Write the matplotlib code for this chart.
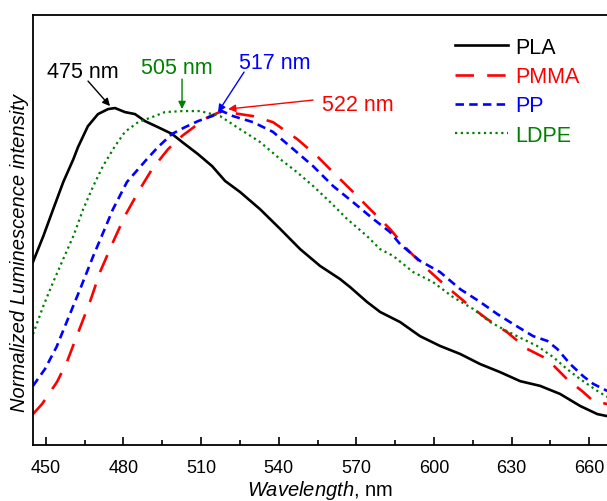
import matplotlib
matplotlib.use("Agg")
import matplotlib.pyplot as plt
from matplotlib.ticker import MultipleLocator

plt.rcParams['font.family'] = ['Liberation Sans', 'DejaVu Sans']
plt.rcParams['mathtext.fontset'] = 'custom'
plt.rcParams['mathtext.it'] = 'Liberation Sans:italic'
plt.rcParams['mathtext.rm'] = 'Liberation Sans'

# ---- data ----
pla_wl = [445.1, 449.1, 452.9, 456.8, 460.7, 462.5, 466.3, 470.2, 474.1, 476.8,
          480.6, 484.5, 488.4, 493.4, 498.8, 502.7, 508.8, 514.3, 519.3, 525.1,
          532.8, 540.6, 548.3, 556.0, 563.7, 567.6, 574.1, 579.2, 586.9, 594.6,
          602.3, 610.1, 617.8, 625.5, 633.3, 641.0, 648.7, 656.5, 663.1, 666.9]
pla_int = [0.545, 0.622, 0.702, 0.783, 0.851, 0.887, 0.949, 0.985, 1.000, 1.003,
           0.991, 0.985, 0.964, 0.946, 0.926, 0.902, 0.866, 0.830, 0.786, 0.753,
           0.702, 0.643, 0.583, 0.533, 0.494, 0.470, 0.426, 0.396, 0.366, 0.324,
           0.295, 0.271, 0.241, 0.217, 0.190, 0.176, 0.152, 0.116, 0.092, 0.086]

pmma_wl = [445.1, 448.6, 454.4, 458.2, 462.0, 467.1, 471.0, 476.0, 480.6, 486.4,
           491.1, 497.3, 502.7, 507.7, 512.7, 518.1, 520.0, 530.1, 537.8, 547.1,
           554.8, 561.0, 567.6, 575.3, 583.0, 589.6, 597.3, 605.1, 612.8, 620.5,
           628.2, 636.0, 643.7, 651.4, 657.6, 661.5, 666.9]
pmma_int = [0.092, 0.122, 0.188, 0.247, 0.324, 0.426, 0.515, 0.604, 0.682, 0.762,
            0.821, 0.881, 0.920, 0.949, 0.976, 0.994, 0.991, 0.979, 0.961, 0.911,
            0.860, 0.812, 0.762, 0.702, 0.643, 0.583, 0.524, 0.470, 0.420, 0.375,
            0.336, 0.286, 0.256, 0.196, 0.158, 0.131, 0.122]

pp_wl = [445.1, 449.7, 454.2, 458.1, 463.3, 468.4, 472.3, 476.0, 481.4, 489.1,
         493.4, 498.8, 503.8, 508.8, 514.3, 518.1, 522.4, 530.1, 537.8, 545.6,
         553.3, 561.0, 568.7, 576.5, 583.0, 586.9, 594.6, 602.3, 610.1, 617.8,
         624.4, 630.6, 638.3, 643.7, 647.6, 652.6, 657.6, 661.5, 666.9]
pp_int = [0.176, 0.226, 0.292, 0.366, 0.464, 0.563, 0.634, 0.702, 0.783, 0.851,
          0.887, 0.926, 0.946, 0.964, 0.979, 0.994, 0.979, 0.961, 0.932, 0.881,
          0.830, 0.771, 0.723, 0.673, 0.634, 0.598, 0.548, 0.515, 0.464, 0.426,
          0.390, 0.360, 0.324, 0.310, 0.286, 0.241, 0.205, 0.182, 0.161]

ldpe_wl = [445.1, 449.1, 452.9, 456.8, 460.7, 464.5, 468.4, 472.1, 476.8, 480.6,
           485.7, 491.1, 496.1, 502.7, 509.6, 517.4, 525.1, 532.8, 540.6, 547.1,
           553.3, 559.9, 566.4, 574.1, 579.2, 584.2, 591.9, 599.6, 607.4, 615.1,
           621.7, 628.2, 634.4, 639.8, 646.0, 651.4, 656.5, 663.1, 666.9]
ldpe_int = [0.330, 0.414, 0.485, 0.554, 0.622, 0.702, 0.771, 0.830, 0.890, 0.932,
            0.961, 0.976, 0.991, 0.994, 0.994, 0.979, 0.940, 0.902, 0.851, 0.812,
            0.771, 0.723, 0.673, 0.622, 0.583, 0.563, 0.515, 0.485, 0.440, 0.405,
            0.366, 0.339, 0.315, 0.295, 0.262, 0.226, 0.196, 0.161, 0.143]

series_labels = ["PLA", "PMMA", "PP", "LDPE"]
peak_labels = ["475 nm", "505 nm", "517 nm", "522 nm"]
x_ticks = [450, 480, 510, 540, 570, 600, 630, 660]

# ---- figure ----
W, H = 607, 502
fig = plt.figure(figsize=(W / 100, H / 100), dpi=100)
L, R, T, B = 33, 609, 16, 446
ax = fig.add_axes([L / W, 1 - B / H, (R - L) / W, (B - T) / H])

ax.plot(pla_wl, pla_int, color='black', lw=1.9, label=series_labels[0])
ax.plot(pmma_wl, pmma_int, color='#ff0000', lw=1.9, dashes=(7, 5), label=series_labels[1])
ax.plot(pp_wl, pp_int, color='#0000ff', lw=1.9, dashes=(3.2, 2), label=series_labels[2])
ax.plot(ldpe_wl, ldpe_int, color='#008000', lw=1.6, dashes=(1, 1.6), label=series_labels[3])

ax.set_xlim(445.1, 667.6)
ax.set_ylim(0.0, 1.28)
ax.set_xticks(x_ticks)
ax.xaxis.set_minor_locator(MultipleLocator(15))
ax.set_yticks([])
ax.tick_params(axis='x', which='major', direction='in', length=6, width=1.2,
               labelsize=13, pad=10, top=False)
ax.tick_params(axis='x', which='minor', direction='in', length=3.5, width=1.2, top=False)
for s in ['left', 'top', 'bottom', 'right']:
    ax.spines[s].set_linewidth(1.3)

ax.set_xlabel(r"$\mathit{Wavelength}$, nm", fontsize=14.5)
ax.xaxis.set_label_coords((320 - L) / (R - L), -(479 - B) / (B - T))
ax.set_ylabel("Normalized Luminescence intensity", fontsize=14.5, style='italic')
ax.yaxis.set_label_coords(-(33 - 29) / (R - L), (B - 253) / (B - T))

# annotations
def px(x, y):
    return (445.1 + (x - L) / 2.588, (B - y) / 336.0)

ann = [
    (peak_labels[0], 'black', (110, 107), (83, 72)),
    (peak_labels[1], '#008000', (182, 110), (177, 68)),
    (peak_labels[2], '#0000ff', (218, 113), (275, 63)),
    (peak_labels[3], '#ff0000', (228, 110), (358, 105)),
]
arrow_starts = [(88, 82), (182, 80), (244, 73), (313, 101)]
for (txt, col, tip, tpos), st in zip(ann, arrow_starts):
    ax.text(*px(*tpos), txt, color=col, fontsize=15.5, ha='center', va='center')
    ax.annotate('', xy=px(*tip), xytext=px(*st),
                arrowprops=dict(arrowstyle='-|>', color=col, lw=1.0,
                                mutation_scale=11, shrinkA=0, shrinkB=0))

leg = ax.legend(loc='upper left', bbox_to_anchor=((455 - L) / (R - L), (B - 38) / (B - T)),
                frameon=False, fontsize=15.5, handlelength=2.45, handletextpad=0.35,
                labelspacing=0.38, borderpad=0, borderaxespad=0)
for t, c in zip(leg.get_texts(), ['black', '#ff0000', '#0000ff', '#008000']):
    t.set_color(c)

fig.savefig("out.png", dpi=100)
